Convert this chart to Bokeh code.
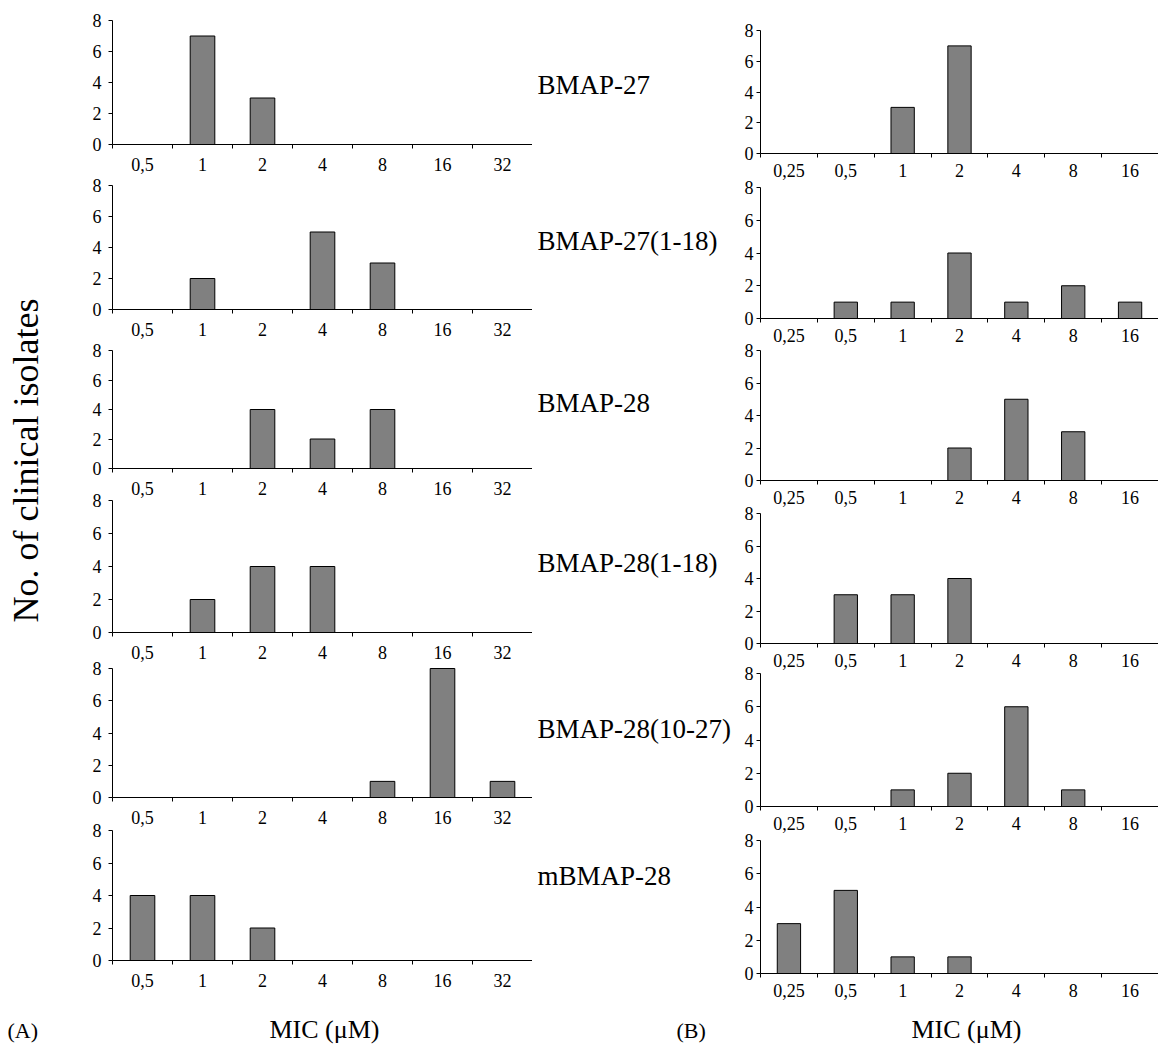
from math import pi
from bokeh.plotting import figure
from bokeh.layouts import row, column
from bokeh.models import Range1d, FixedTicker, LinearAxis
from bokeh.embed import file_html
from bokeh.resources import INLINE
from bokeh.core.properties import value

FONT = "Liberation Serif"

# ---------------- data ----------------
mic_a = ["0,5", "1", "2", "4", "8", "16", "32"]
mic_b = ["0,25", "0,5", "1", "2", "4", "8", "16"]
peptides = ["BMAP-27", "BMAP-27(1-18)", "BMAP-28", "BMAP-28(1-18)",
            "BMAP-28(10-27)", "mBMAP-28"]

a_bmap27 = [0, 7, 3, 0, 0, 0, 0]
a_bmap27_1_18 = [0, 2, 0, 5, 3, 0, 0]
a_bmap28 = [0, 0, 4, 2, 4, 0, 0]
a_bmap28_1_18 = [0, 2, 4, 4, 0, 0, 0]
a_bmap28_10_27 = [0, 0, 0, 0, 1, 8, 1]
a_mbmap28 = [4, 4, 2, 0, 0, 0, 0]

b_bmap27 = [0, 0, 3, 7, 0, 0, 0]
b_bmap27_1_18 = [0, 1, 1, 4, 1, 2, 1]
b_bmap28 = [0, 0, 0, 2, 5, 3, 0]
b_bmap28_1_18 = [0, 3, 3, 4, 0, 0, 0]
b_bmap28_10_27 = [0, 0, 1, 2, 6, 1, 0]
b_mbmap28 = [3, 5, 1, 1, 0, 0, 0]

series_a = [a_bmap27, a_bmap27_1_18, a_bmap28, a_bmap28_1_18, a_bmap28_10_27, a_mbmap28]
series_b = [b_bmap27, b_bmap27_1_18, b_bmap28, b_bmap28_1_18, b_bmap28_10_27, b_mbmap28]

y_ticks = [0, 2, 4, 6, 8]
y_title = "No. of clinical isolates"
x_title = "MIC (μM)"
panel_tags = ["(A)", "(B)"]

# ---------------- layout (screen px) ----------------
PH = 1000             # height of the panel area
BOTTOM_H = 44
TOTAL_W = 1158
Y_MAX = 8

TITLE_W = 60          # x 0..60
LEFT_W = 472          # x 60..532
LEFT_FRAME0 = 22      # frame from 82 (room for y tick labels)
LEFT_AXIS0 = 52       # y axis at 112
LABEL_W = 203         # x 532..735
RIGHT_W = 423         # x 735..1158
RIGHT_FRAME0 = 0      # frame from 735
RIGHT_AXIS0 = 25      # y axis at 760

tops_a = [20, 185, 350, 500, 668, 830]
zeros_a = [144, 309, 468, 632, 797, 960]
tops_b = [30, 187, 350, 513, 673, 840]
zeros_b = [153, 318, 480, 643, 806, 973]
label_y = [84, 240, 402, 562, 728, 875]


def style_axis(ax, size):
    ax.axis_line_color = "black"
    ax.axis_line_width = 1
    ax.major_label_text_font = FONT
    ax.major_label_text_font_size = size
    ax.major_label_text_color = "black"


def column_fig(cats, series, tops, zeros, width, frame0, axis0, x_standoff, y_standoff):
    n = len(cats)
    xs = list(range(n))
    slot = (width - axis0) / n
    pad = (axis0 - frame0) / slot
    names = ["p%d" % i for i in range(len(series))]
    ranges = {}
    for name, top, zero in zip(names, tops, zeros):
        k = (zero - top) / Y_MAX
        ranges[name] = Range1d(-(PH - zero) / k, Y_MAX + top / k)
    p = figure(width=width, height=PH,
               x_range=Range1d(-0.5 - pad, n - 0.5), y_range=Range1d(0, PH),
               x_axis_type=None, y_axis_type=None,
               output_backend="svg", toolbar_location=None,
               min_border_left=frame0, min_border_right=0,
               min_border_top=0, min_border_bottom=0,
               outline_line_color=None, background_fill_color="white",
               border_fill_color="white")
    p.extra_y_ranges = ranges
    p.grid.visible = False
    for name, counts in zip(names, series):
        p.vbar(x=xs, top=counts, bottom=0, width=0.41,
               fill_color="#808080", line_color="black", line_width=1,
               y_range_name=name)

        xa = LinearAxis(y_range_name=name, fixed_location=0, bounds=(-0.5, n - 0.5))
        xa.ticker = FixedTicker(ticks=xs, minor_ticks=[i - 0.5 for i in range(n + 1)])
        xa.major_label_overrides = dict(zip(xs, cats))
        xa.major_tick_line_color = None
        xa.major_tick_out = 0
        xa.major_tick_in = 0
        xa.minor_tick_line_color = "black"
        xa.minor_tick_out = 4
        xa.minor_tick_in = 0
        xa.major_label_standoff = x_standoff
        style_axis(xa, "18px")
        p.add_layout(xa, "below")

        ya = LinearAxis(y_range_name=name, fixed_location=-0.5, bounds=(0, Y_MAX))
        ya.ticker = FixedTicker(ticks=y_ticks)
        ya.major_tick_line_color = "black"
        ya.major_tick_out = 4
        ya.major_tick_in = 0
        ya.minor_tick_line_color = None
        ya.major_label_standoff = y_standoff
        style_axis(ya, "18px")
        p.add_layout(ya, "left")
    return p


def blank(width, height):
    p = figure(width=width, height=height,
               x_range=Range1d(0, width), y_range=Range1d(0, height),
               x_axis_type=None, y_axis_type=None,
               output_backend="svg", toolbar_location=None,
               min_border_left=0, min_border_right=0,
               min_border_top=0, min_border_bottom=0,
               outline_line_color=None, border_fill_color="white")
    p.grid.visible = False
    return p


left_fig = column_fig(mic_a, series_a, tops_a, zeros_a, LEFT_W, LEFT_FRAME0, LEFT_AXIS0, 9, 7)
right_fig = column_fig(mic_b, series_b, tops_b, zeros_b, RIGHT_W, RIGHT_FRAME0, RIGHT_AXIS0, 6, 3)

# y-axis title
yt = blank(TITLE_W, PH)
yt.text(x=[25], y=[PH - 460], text=[y_title], angle=pi / 2,
        text_font=value(FONT), text_font_size="36px", text_color="black",
        text_align="center", text_baseline="middle")

# peptide labels
lab = blank(LABEL_W, PH)
lab.text(x=[5] * len(peptides), y=[PH - v for v in label_y], text=peptides,
         text_font=value(FONT), text_font_size="27px", text_color="black",
         text_align="left", text_baseline="middle")

# bottom texts
bot = blank(TOTAL_W, BOTTOM_H)
BOT_EDGE = PH + BOTTOM_H
bot.text(x=[7, 676], y=[BOT_EDGE - 1030] * 2, text=panel_tags,
         text_font=value(FONT), text_font_size="22px", text_color="black",
         text_align="left", text_baseline="middle")
bot.text(x=[324, 966], y=[BOT_EDGE - 1029] * 2, text=[x_title, x_title],
         text_font=value(FONT), text_font_size="26px", text_color="black",
         text_align="center", text_baseline="middle")

layout = column(row(yt, left_fig, lab, right_fig), bot)

open("out.html", "w").write(file_html(layout, INLINE))
